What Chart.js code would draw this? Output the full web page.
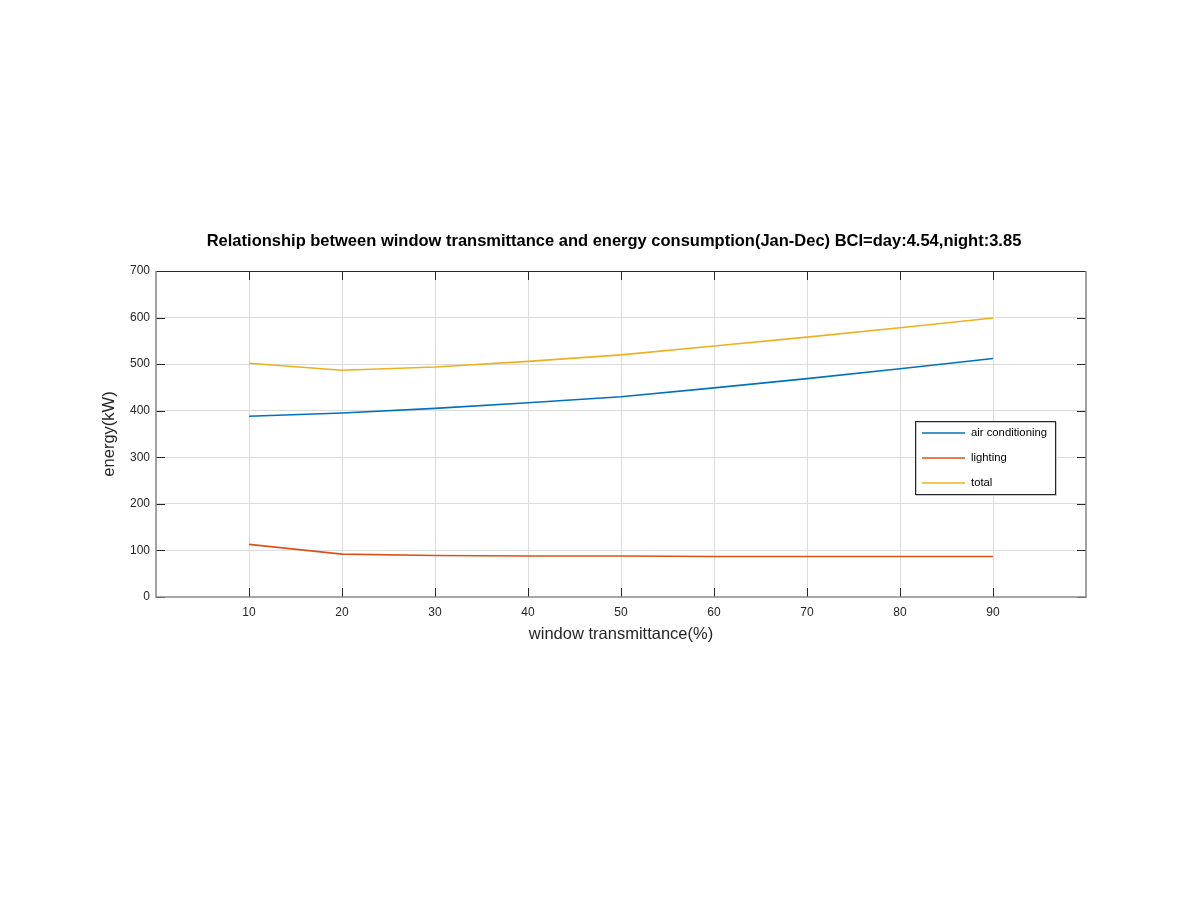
<!DOCTYPE html>
<html>
<head>
<meta charset="utf-8">
<title>Window transmittance vs energy</title>
<script src="https://cdn.jsdelivr.net/npm/chart.js@4/dist/chart.umd.min.js"></script>
<style>
    body { margin: 0; background: #fff; }
    #wrap { width: 1200px; height: 900px; }
</style>
</head>
<body>
<div id="wrap"><canvas id="energyChart" width="1200" height="900"></canvas></div>
<script>
// values
const transmittance = [10, 20, 30, 40, 50, 60, 70, 80, 90];
const airConditioning = [388, 395, 405, 417, 430, 449, 469, 490, 512];
const lighting = [113, 92, 89, 88, 88, 87, 87, 87, 87];
const total = [502, 487, 494, 506, 520, 539, 558, 578, 599];
const seriesNames = ['air conditioning', 'lighting', 'total'];
const xTicks = [10, 20, 30, 40, 50, 60, 70, 80, 90];
const yTicks = [0, 100, 200, 300, 400, 500, 600, 700];

const FONT = '"Liberation Sans", Arial, Helvetica, sans-serif';
const INK = '#262626';

function points(values) {
    return transmittance.map((x, i) => ({ x: x, y: values[i] }));
}

// centre the title over the plot box rather than the whole canvas
const titleShift = {
    id: 'titleShift',
    afterLayout(chart) {
        if (chart.titleBlock) {
            chart.titleBlock.left = 142;
            chart.titleBlock.right = chart.chartArea.right;
        }
    }
};

// MATLAB-like box with inward ticks
const boxPlugin = {
    id: 'boxPlugin',
    afterDraw(chart) {
        const ctx = chart.ctx;
        const a = chart.chartArea;
        const xs = chart.scales.x;
        const ys = chart.scales.y;
        ctx.save();
        // ticks
        ctx.strokeStyle = INK;
        ctx.lineWidth = 1;
        const len = 9;
        ctx.beginPath();
        xTicks.forEach(v => {
            const px = Math.round(xs.getPixelForValue(v)) + 0.5;
            ctx.moveTo(px, a.bottom); ctx.lineTo(px, a.bottom - len);
            ctx.moveTo(px, a.top); ctx.lineTo(px, a.top + len);
        });
        yTicks.forEach(v => {
            const py = Math.round(ys.getPixelForValue(v)) + 0.5;
            ctx.moveTo(a.left, py); ctx.lineTo(a.left + len, py);
            ctx.moveTo(a.right, py); ctx.lineTo(a.right - len, py);
        });
        ctx.stroke();
        // frame
        ctx.strokeStyle = INK;
        ctx.lineWidth = 1;
        ctx.beginPath();
        ctx.moveTo(a.left, a.top + 0.5); ctx.lineTo(a.right, a.top + 0.5);
        ctx.stroke();
        ctx.strokeStyle = '#8a8a8a';
        ctx.lineWidth = 1.6;
        ctx.beginPath();
        ctx.moveTo(a.left, a.top); ctx.lineTo(a.left, a.bottom);
        ctx.lineTo(a.right, a.bottom); ctx.lineTo(a.right, a.top);
        ctx.stroke();
        ctx.restore();
    }
};

// legend box inside the axes, like the original
const legendPlugin = {
    id: 'insideLegend',
    afterDraw(chart) {
        const ctx = chart.ctx;
        const left = 915, top = 421, w = 140, h = 73;
        ctx.save();
        ctx.fillStyle = '#fff';
        ctx.fillRect(left, top, w, h);
        ctx.strokeStyle = '#c8c8c8';
        ctx.lineWidth = 1;
        ctx.strokeRect(left + 1.5, top + 1.5, w, h);
        ctx.strokeStyle = INK;
        ctx.strokeRect(left + 0.5, top + 0.5, w, h);
        ctx.font = '11.3px ' + FONT;
        ctx.textBaseline = 'middle';
        chart.data.datasets.forEach((ds, i) => {
            const y = top + 12 + i * 25;
            ctx.strokeStyle = ds.borderColor;
            ctx.lineWidth = 1.5;
            ctx.beginPath();
            ctx.moveTo(left + 7, y); ctx.lineTo(left + 50, y);
            ctx.stroke();
            ctx.fillStyle = '#000';
            ctx.fillText(ds.label, left + 56, y);
        });
        ctx.restore();
    }
};

const ctx = document.getElementById('energyChart').getContext('2d');
new Chart(ctx, {
    type: 'line',
    data: {
        datasets: [
            { label: seriesNames[0], data: points(airConditioning), borderColor: '#0072BD' },
            { label: seriesNames[1], data: points(lighting), borderColor: '#D95319' },
            { label: seriesNames[2], data: points(total), borderColor: '#EDB120' }
        ]
    },
    options: {
        responsive: false,
        animation: false,
        devicePixelRatio: 1,
        layout: { padding: { left: 0, right: 114, top: 0, bottom: 0 } },
        elements: {
            line: { borderWidth: 1.6, tension: 0, fill: false },
            point: { radius: 0, hoverRadius: 0 }
        },
        plugins: {
            legend: { display: false },
            tooltip: { enabled: false },
            title: {
                display: true,
                text: 'Relationship between window transmittance and energy consumption(Jan-Dec) BCI=day:4.54,night:3.85',
                color: '#000',
                font: { family: FONT, size: 16.5, weight: 'bold', lineHeight: 1.2 },
                padding: { top: 231.1, bottom: 20.1 }
            }
        },
        scales: {
            x: {
                type: 'linear',
                min: 0,
                max: 100,
                border: { display: false },
                afterFit(scale) { scale.height = 303; },
                ticks: {
                    stepSize: 10,
                    padding: 8,
                    color: INK,
                    font: { family: FONT, size: 12 },
                    maxRotation: 0,
                    callback: v => (xTicks.includes(v) ? v : '')
                },
                grid: {
                    drawTicks: false,
                    color: c => (xTicks.includes(c.tick.value) ? '#dcdcdc' : 'rgba(0,0,0,0)')
                },
                title: {
                    display: true,
                    text: 'window transmittance(%)',
                    color: INK,
                    font: { family: FONT, size: 16.5 },
                    padding: { top: 0, bottom: 256 }
                }
            },
            y: {
                min: 0,
                max: 700,
                border: { display: false },
                afterFit(scale) { scale.width = 156; },
                ticks: {
                    stepSize: 100,
                    padding: 6,
                    color: INK,
                    font: { family: FONT, size: 12 }
                },
                grid: {
                    drawTicks: false,
                    color: c => (c.tick.value === 0 || c.tick.value === 700 ? 'rgba(0,0,0,0)' : '#dcdcdc')
                },
                title: {
                    display: true,
                    text: 'energy(kW)',
                    color: INK,
                    font: { family: FONT, size: 16.5 },
                    padding: { top: 100, bottom: 0 }
                }
            }
        }
    },
    plugins: [titleShift, boxPlugin, legendPlugin]
});
</script>
</body>
</html>
